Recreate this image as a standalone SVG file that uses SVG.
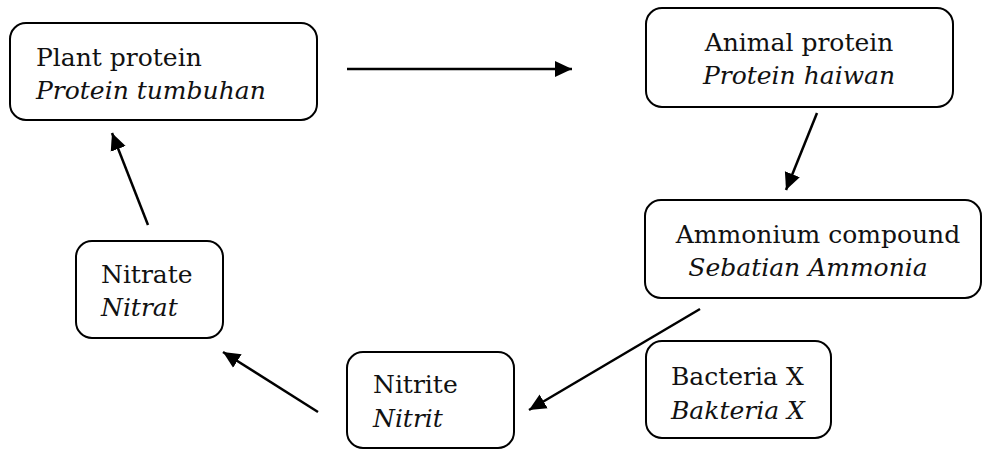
<svg xmlns="http://www.w3.org/2000/svg" width="983" height="449" viewBox="0 0 983 449">
  <style>
    .box { fill: #ffffff; stroke: #000000; stroke-width: 2; }
    .t { font-family: "DejaVu Serif", "Liberation Serif", serif; font-size: 25px; fill: #111111; }
    .i { font-style: italic; }
    .c { text-anchor: middle; }
    .edge { stroke: #000000; stroke-width: 2.5; fill: none; marker-end: url(#ah); }
  </style>
  <defs>
    <marker id="ah" markerUnits="userSpaceOnUse" markerWidth="18" markerHeight="18" refX="17" refY="9" orient="auto">
      <path d="M0,1 L17,9 L0,17 z" fill="#000000"/>
    </marker>
  </defs>
  <rect width="983" height="449" fill="#ffffff"/>

  <g id="plant">
    <rect class="box" x="10" y="23" width="307" height="97" rx="16"/>
    <text class="t" x="36" y="66">Plant protein</text>
    <text class="t i" x="36" y="99">Protein tumbuhan</text>
  </g>

  <g id="animal">
    <rect class="box" x="646" y="8" width="307" height="99" rx="16"/>
    <text class="t c" x="799" y="51">Animal protein</text>
    <text class="t i c" x="799" y="84">Protein haiwan</text>
  </g>

  <g id="ammonium">
    <rect class="box" x="645" y="200" width="336" height="98" rx="16"/>
    <text class="t c" x="818" y="243">Ammonium compound</text>
    <text class="t i c" x="808" y="276">Sebatian Ammonia</text>
  </g>

  <g id="bacteria">
    <rect class="box" x="646" y="341" width="185" height="97" rx="16"/>
    <text class="t" x="671" y="385">Bacteria X</text>
    <text class="t i" x="671" y="419">Bakteria X</text>
  </g>

  <g id="nitrite">
    <rect class="box" x="347" y="352" width="167" height="96" rx="16"/>
    <text class="t" x="373" y="393">Nitrite</text>
    <text class="t i" x="373" y="427">Nitrit</text>
  </g>

  <g id="nitrate">
    <rect class="box" x="76" y="241" width="147" height="97" rx="16"/>
    <text class="t" x="101" y="283">Nitrate</text>
    <text class="t i" x="101" y="316">Nitrat</text>
  </g>

  <g id="connectors">
    <line class="edge" x1="347" y1="69" x2="572" y2="69"/>
    <line class="edge" x1="817" y1="113" x2="786" y2="190"/>
    <line class="edge" x1="700" y1="309" x2="529" y2="410"/>
    <line class="edge" x1="318" y1="412" x2="223" y2="352"/>
    <line class="edge" x1="148" y1="225" x2="112" y2="133"/>
  </g>
</svg>
